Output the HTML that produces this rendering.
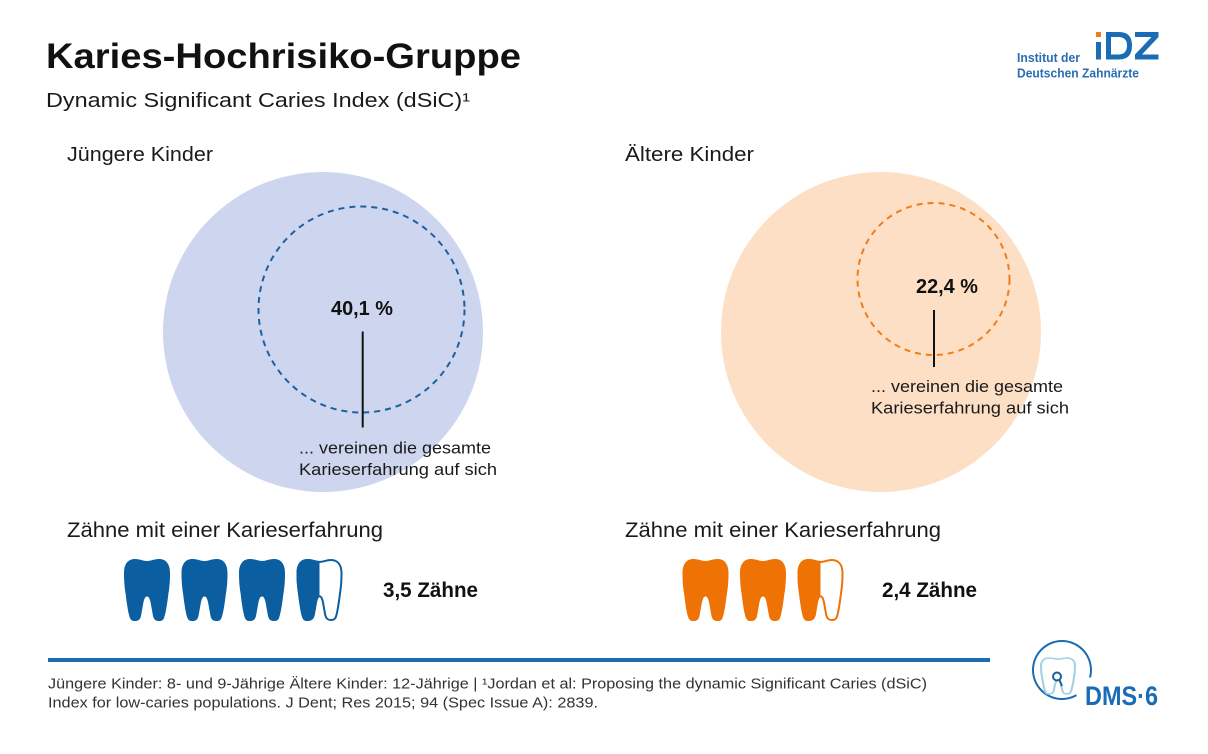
<!DOCTYPE html>
<html>
<head>
<meta charset="utf-8">
<style>
  html, body { margin: 0; padding: 0; background: #ffffff; }
  svg { display: block; }
  text { font-family: "Liberation Sans", "DejaVu Sans", sans-serif; }
</style>
</head>
<body>
<svg width="1208" height="754" viewBox="0 0 1208 754" xmlns="http://www.w3.org/2000/svg">
  <defs>
    <path id="tooth" d="M11,0 C4,0 0,5 0,14 C0,22 0.5,28 1.5,34 C2.5,42 4,54 6,59 C7,61.5 8.5,62 11,62 C14,62 16,61 17,57 L19.5,43 C20.5,39 21.5,37.5 23,37.5 C24.5,37.5 25.5,39 26.5,43 L29,57 C30,61 32,62 35,62 C37.5,62 39,61.5 40,59 C42,54 43.5,42 44.5,34 C45.5,28 46,22 46,14 C46,5 42,0 35,0 C30,0 27,2 23,2 C19,2 16,0 11,0 Z"/>
    <clipPath id="halfL"><rect x="-2" y="-2" width="25" height="70"/></clipPath>
  </defs>

  <rect width="1208" height="754" fill="#ffffff"/>

  <!-- Title -->
  <text x="46" y="68" font-size="35" font-weight="bold" fill="#111" textLength="475" lengthAdjust="spacingAndGlyphs">Karies-Hochrisiko-Gruppe</text>
  <text x="46" y="107" font-size="20" fill="#1a1a1a" textLength="424" lengthAdjust="spacingAndGlyphs">Dynamic Significant Caries Index (dSiC)¹</text>

  <!-- IDZ logo -->
  <text x="1017" y="62" font-size="13" font-weight="bold" fill="#2a6db2" textLength="63" lengthAdjust="spacingAndGlyphs">Institut der</text>
  <text x="1017" y="77.5" font-size="13" font-weight="bold" fill="#2a6db2" textLength="122" lengthAdjust="spacingAndGlyphs">Deutschen Zahnärzte</text>
  <rect x="1096" y="32" width="5" height="5" fill="#ef7d1a"/>
  <rect x="1096" y="42" width="5" height="17.5" fill="#1a6cb4"/>
  <path fill="#1a6cb4" fill-rule="evenodd" d="M1106,32 H1119 Q1132,32 1132,45.5 Q1132,59.5 1119,59.5 H1106 Z M1111,37 H1118 Q1127,37 1127,45.5 Q1127,54.5 1118,54.5 H1111 Z"/>
  <path fill="#1a6cb4" d="M1135,32 H1158.5 V37 L1142,54.5 H1158.5 V59.5 H1135 V54.5 L1151.5,37 H1135 Z"/>

  <!-- Section headings -->
  <text x="67" y="161" font-size="20" fill="#1a1a1a" textLength="146" lengthAdjust="spacingAndGlyphs">Jüngere Kinder</text>
  <text x="625" y="161" font-size="20" fill="#1a1a1a" textLength="129" lengthAdjust="spacingAndGlyphs">Ältere Kinder</text>

  <!-- Left circle -->
  <circle cx="323" cy="332" r="160" fill="#cdd6ee"/>
  <circle cx="361.5" cy="309.5" r="103" fill="none" stroke="#1b60a2" stroke-width="2" stroke-dasharray="6,5"/>
  <text x="331" y="315" font-size="20" font-weight="bold" fill="#111" textLength="62" lengthAdjust="spacingAndGlyphs">40,1 %</text>
  <line x1="362.7" y1="331.5" x2="362.7" y2="427.5" stroke="#111" stroke-width="2"/>
  <text x="299" y="453.5" font-size="17" fill="#1a1a1a" textLength="192" lengthAdjust="spacingAndGlyphs">... vereinen die gesamte</text>
  <text x="299" y="475" font-size="17" fill="#1a1a1a" textLength="198" lengthAdjust="spacingAndGlyphs">Karieserfahrung auf sich</text>

  <!-- Right circle -->
  <circle cx="881" cy="332" r="160" fill="#fddfc5"/>
  <circle cx="933.5" cy="279" r="76" fill="none" stroke="#f07d1c" stroke-width="2" stroke-dasharray="6,5"/>
  <text x="916" y="293" font-size="20" font-weight="bold" fill="#111" textLength="62" lengthAdjust="spacingAndGlyphs">22,4 %</text>
  <line x1="934" y1="310" x2="934" y2="367" stroke="#111" stroke-width="2"/>
  <text x="871" y="392" font-size="17" fill="#1a1a1a" textLength="192" lengthAdjust="spacingAndGlyphs">... vereinen die gesamte</text>
  <text x="871" y="413.5" font-size="17" fill="#1a1a1a" textLength="198" lengthAdjust="spacingAndGlyphs">Karieserfahrung auf sich</text>

  <!-- Teeth headings -->
  <text x="67" y="537" font-size="21.5" fill="#1a1a1a" textLength="316" lengthAdjust="spacingAndGlyphs">Zähne mit einer Karieserfahrung</text>
  <text x="625" y="537" font-size="21.5" fill="#1a1a1a" textLength="316" lengthAdjust="spacingAndGlyphs">Zähne mit einer Karieserfahrung</text>

  <!-- Blue teeth -->
  <g fill="#0b5ea0">
    <use href="#tooth" x="124" y="559"/>
    <use href="#tooth" x="181.5" y="559"/>
    <use href="#tooth" x="239" y="559"/>
  </g>
  <g transform="translate(296.5,559)">
    <g transform="translate(1,1) scale(0.9565,0.9677)">
      <use href="#tooth" fill="#ffffff" stroke="#0b5ea0" stroke-width="2.1"/>
    </g>
    <use href="#tooth" fill="#0b5ea0" clip-path="url(#halfL)"/>
  </g>
  <text x="383" y="597" font-size="21" font-weight="bold" fill="#111" textLength="95" lengthAdjust="spacingAndGlyphs">3,5 Zähne</text>

  <!-- Orange teeth -->
  <g fill="#ef7204">
    <use href="#tooth" x="682.5" y="559"/>
    <use href="#tooth" x="740" y="559"/>
  </g>
  <g transform="translate(797.5,559)">
    <g transform="translate(1,1) scale(0.9565,0.9677)">
      <use href="#tooth" fill="#ffffff" stroke="#ef7204" stroke-width="2.1"/>
    </g>
    <use href="#tooth" fill="#ef7204" clip-path="url(#halfL)"/>
  </g>
  <text x="882" y="597" font-size="21" font-weight="bold" fill="#111" textLength="95" lengthAdjust="spacingAndGlyphs">2,4 Zähne</text>

  <!-- Footer -->
  <rect x="48" y="658" width="942" height="4" fill="#1a6cb4"/>
  <text x="48" y="688.5" font-size="14.5" fill="#333" textLength="879" lengthAdjust="spacingAndGlyphs">Jüngere Kinder: 8- und 9-Jährige Ältere Kinder: 12-Jährige | ¹Jordan et al: Proposing the dynamic Significant Caries (dSiC)</text>
  <text x="48" y="707.5" font-size="14.5" fill="#333" textLength="550" lengthAdjust="spacingAndGlyphs">Index for low-caries populations. J Dent; Res 2015; 94 (Spec Issue A): 2839.</text>

  <!-- DMS 6 logo -->
  <path d="M1076.5,695.1 A29,29 0 1 1 1090,677.5" fill="none" stroke="#1a6cb4" stroke-width="2"/>
  <g transform="translate(1041,658) scale(0.74,0.58)">
    <use href="#tooth" fill="none" stroke="#9fd3e4" stroke-width="2.8"/>
  </g>
  <circle cx="1057" cy="676.5" r="4" fill="none" stroke="#1a5f9e" stroke-width="2"/>
  <line x1="1059.5" y1="680" x2="1062" y2="686" stroke="#1a5f9e" stroke-width="2"/>
  <text x="1085" y="705" font-size="27" font-weight="bold" fill="#1a6cb4" textLength="73" lengthAdjust="spacingAndGlyphs">DMS·6</text>
</svg>
</body>
</html>
